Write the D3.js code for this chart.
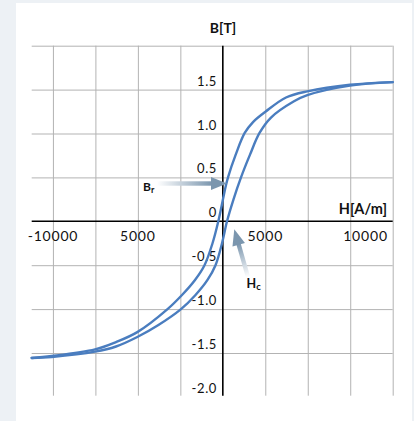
<!DOCTYPE html>
<html>
<head>
<meta charset="utf-8">
<script src="https://cdn.jsdelivr.net/npm/d3@7"></script>
<style>
  html, body { margin: 0; padding: 0; background: #edf1f5; }
  svg { display: block; }
  text { font-family: Lato, "Open Sans", sans-serif; fill: #111; }
</style>
</head>
<body>
<svg id="chart" width="414" height="421"></svg>
<script>
// ---- data ----
// Descending branch (from +saturation to -saturation): H [A/m], B [T]
const descH = [10000, 7488, 4974, 3720, 2525, 1778, 1289, 759, 306, 171, -265, -606, -1077, -1636, -2402, -3255, -5033, -6287, -7523, -10072, -11250];
const descB = [1.585, 1.555, 1.48, 1.41, 1.25, 1.13, 1.006, 0.759, 0.501, 0.399, 0, -0.25, -0.5, -0.668, -0.839, -1.0, -1.262, -1.375, -1.458, -1.534, -1.557];
// Ascending branch (from -saturation to +saturation)
const ascH = [-11250, -10072, -7523, -6287, -5033, -3815, -2461, -1607, -901, -430, -47, 247, 630, 1071, 1601, 2160, 2837, 4191, 4974, 7488, 10000];
const ascB = [-1.557, -1.545, -1.485, -1.426, -1.318, -1.184, -1.0, -0.839, -0.668, -0.5, -0.25, 0, 0.25, 0.5, 0.759, 1.006, 1.182, 1.367, 1.437, 1.545, 1.585];

const gridH = [-10000, -7500, -5000, -2500, 2500, 5000, 7500, 10000];
const gridB = [-1.5, -1.0, -0.5, 0.5, 1.0, 1.5, 2.0];
const yTickValues = [1.5, 1.0, 0.5, 0, -0.5, -1.0, -1.5, -2.0];
const yTickLabels = ["1.5", "1.0", "0.5", "0", "-0.5", "-1.0", "-1.5", "-2.0"];
const xTickValues = [-10000, -5000, 2500, 8400];
const xTickLabels = ["-10000", "5000", "5000", "10000"];

// ---- layout ----
const svg = d3.select("#chart");
svg.append("rect").attr("x", 16).attr("y", 3).attr("width", 396).attr("height", 418).attr("fill", "#ffffff");

const x = d3.scaleLinear().domain([-11250, 10000]).range([31.7, 392.7]);
const y = d3.scaleLinear().domain([-2, 2]).range([396.9, 45.7]);
const gridBottom = 395.7;

// vertical grid lines via axis
const gx = svg.append("g").attr("transform", `translate(0,${gridBottom})`)
  .call(d3.axisBottom(x).tickValues(gridH).tickSize(-(gridBottom - y(2))).tickFormat(""));
gx.select(".domain").remove();
gx.selectAll(".tick line").attr("stroke", "#b3b3b3").attr("stroke-width", 1);

// horizontal grid lines via axis
const gy = svg.append("g").attr("transform", `translate(${x.range()[0]},0)`)
  .call(d3.axisLeft(y).tickValues(gridB).tickSize(-(x.range()[1] - x.range()[0])).tickFormat(""));
gy.select(".domain").remove();
gy.selectAll(".tick line").attr("stroke", "#b3b3b3").attr("stroke-width", 1);

// main axes
svg.append("line").attr("x1", x(0)).attr("x2", x(0)).attr("y1", y(2)).attr("y2", gridBottom)
  .attr("stroke", "#000").attr("stroke-width", 1.6);
svg.append("line").attr("x1", x.range()[0]).attr("x2", x.range()[1]).attr("y1", y(0)).attr("y2", y(0))
  .attr("stroke", "#000").attr("stroke-width", 1.6);

// y tick labels
svg.append("g").selectAll("text").data(yTickValues).join("text")
  .attr("x", 217).attr("y", d => y(d) - 4)
  .attr("text-anchor", "end").attr("font-size", 13).attr("letter-spacing", 0.6)
  .text((d, i) => yTickLabels[i]);

// x tick labels
svg.append("g").selectAll("text").data(xTickValues).join("text")
  .attr("x", d => x(d)).attr("y", 240.7)
  .attr("text-anchor", "middle").attr("font-size", 14).attr("letter-spacing", 0.8)
  .text((d, i) => xTickLabels[i]);

// axis titles
svg.append("text").attr("x", 223).attr("y", 33).attr("text-anchor", "middle")
  .attr("font-size", 14).attr("font-weight", "bold").text("B[T]");
svg.append("text").attr("x", 387).attr("y", 214).attr("text-anchor", "end")
  .attr("font-size", 14.5).attr("font-weight", "bold").text("H[A/m]");

// curves
const line = d3.line().x(d => x(d[0])).y(d => y(d[1])).curve(d3.curveCatmullRom.alpha(0.5));
const desc = descH.map((h, i) => [h, descB[i]]);
const asc = ascH.map((h, i) => [h, ascB[i]]);
[desc, asc].forEach(pts => {
  svg.append("path").attr("d", line(pts)).attr("fill", "none")
    .attr("stroke", "#4a7dbf").attr("stroke-width", 2.4).attr("stroke-linecap", "round");
});

// arrows
const defs = svg.append("defs");
const g0 = defs.append("linearGradient").attr("id", "arrGrad").attr("x1", "0%").attr("x2", "100%").attr("y1", "0%").attr("y2", "0%");
g0.append("stop").attr("offset", "0%").attr("stop-color", "#ffffff");
g0.append("stop").attr("offset", "100%").attr("stop-color", "#7b96ae");
function arrow(x0, y0, x1, y1) {
  const len = Math.hypot(x1 - x0, y1 - y0);
  const ang = Math.atan2(y1 - y0, x1 - x0) * 180 / Math.PI;
  const g = svg.append("g").attr("transform", `translate(${x0},${y0}) rotate(${ang})`);
  const head = 16, hw = 6.5, sw = 2.2;
  g.append("rect").attr("x", 0).attr("y", -sw).attr("width", len - head + 1).attr("height", 2 * sw)
    .attr("fill", "url(#arrGrad)");
  g.append("path").attr("d", `M${len},0 L${len - head},${-hw} L${len - head},${hw} Z`).attr("fill", "#7b96ae");
}
arrow(157, 183.5, 227, 183.5);
arrow(248, 277, 234.3, 229.3);

// labels Br, Hc
const br = svg.append("text").attr("x", 143).attr("y", 190.5).attr("font-size", 12).attr("font-weight", "bold");
br.append("tspan").text("B");
br.append("tspan").attr("font-size", 9).attr("dy", 2).text("r");
const hc = svg.append("text").attr("x", 246.5).attr("y", 288.3).attr("font-size", 12.5).attr("font-weight", "bold");
hc.append("tspan").text("H");
hc.append("tspan").attr("font-size", 9.5).attr("dy", 2).text("c");
</script>
</body>
</html>
